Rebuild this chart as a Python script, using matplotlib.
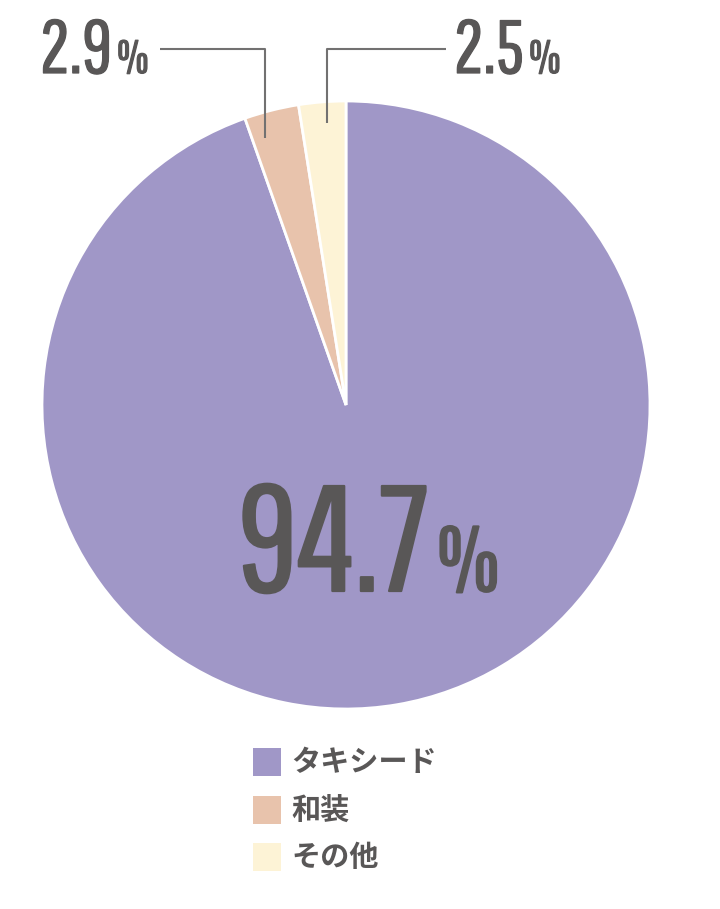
import matplotlib.pyplot as plt
import matplotlib.patheffects as pe
import numpy as np
from matplotlib.patches import Rectangle

categories = ['タキシード', '和装', 'その他']
shares = [94.7, 2.9, 2.5]
colors = ['#a097c7', '#e8c3ac', '#fdf3d6']

TEXT_COLOR = '#595757'
LINE_COLOR = '#727171'
NUM_FONT = ['Pathway Gothic One', 'Open Sans Condensed', 'Liberation Sans Narrow', 'DejaVu Sans']
JP_FONT = ['Noto Sans CJK JP', 'DejaVu Sans']

W, H = 720, 909
fig = plt.figure(figsize=(W / 100, H / 100), dpi=100)

# pie centre (346, 405) px, radius 304 px
cx, cy, r = 346, 405, 304
ax = fig.add_axes([(cx - r) / W, (H - cy - r) / H, 2 * r / W, 2 * r / H])
wedges, _ = ax.pie(shares, colors=colors, startangle=90, counterclock=False,
                   radius=1, wedgeprops=dict(edgecolor='white', linewidth=2))
ax.set_xlim(-1, 1)
ax.set_ylim(-1, 1)
ax.set_aspect('equal')
ax.axis('off')


def px(x, y):
    return x / W, 1 - y / H


def pct_label(xr, yb, num, big, small, gap, stroke):
    # number right-aligned at xr, '%' just after, sharing baseline yb
    # the thin condensed face is thickened a little with a same-colour stroke
    fx = [pe.withStroke(linewidth=stroke, foreground=TEXT_COLOR)]
    fig.text(*px(xr, yb), num, ha='right', va='baseline', fontsize=big,
             family=NUM_FONT, color=TEXT_COLOR, path_effects=fx)
    fig.text(*px(xr + gap, yb), '%', ha='left', va='baseline', fontsize=small,
             family=NUM_FONT, color=TEXT_COLOR, path_effects=fx)


# main label
pct_label(429, 591, f'{shares[0]}', 108, 65, 8, 1.6)
pct_label(112, 73, f'{shares[1]}', 54, 33, 5, 0.9)
pct_label(524, 73, f'{shares[2]}', 54, 33, 5, 0.9)

# leader lines for the small slices
line_y = (cy - 49) / r
for i, (x_end, rad, shift) in zip([1, 2], [(160, 0.918, 2.7), (446, 0.93, -0.6)]):
    w = wedges[i]
    mid = np.deg2rad((w.theta1 + w.theta2) / 2 + shift)
    x0, y0 = rad * np.cos(mid), rad * np.sin(mid)
    xe = (x_end - cx) / r
    ax.plot([x0, x0, xe], [y0, line_y, line_y], color=LINE_COLOR, lw=1.5,
            clip_on=False, solid_capstyle='butt')

# legend
for i, (name, col) in enumerate(zip(categories, colors)):
    ytop = 748 + i * 47.5
    fig.patches.append(Rectangle(px(253, ytop + 28), 28 / W, 28 / H,
                                 transform=fig.transFigure, facecolor=col,
                                 edgecolor='none'))
    fig.text(*px(291, ytop + 14), name, ha='left', va='center', fontsize=21,
             family=JP_FONT, weight='bold', color=TEXT_COLOR)

fig.savefig('out.png', dpi=100, facecolor='white')
